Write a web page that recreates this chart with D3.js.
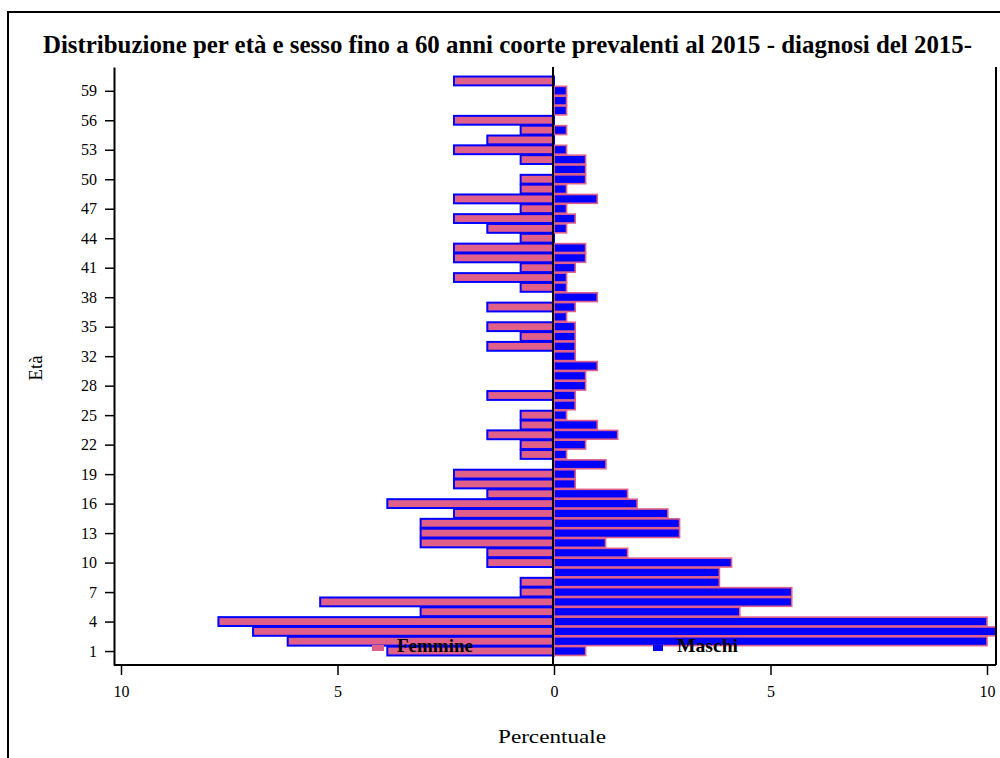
<!DOCTYPE html>
<html><head><meta charset="utf-8">
<script src="https://cdn.jsdelivr.net/npm/d3@7"></script>
<style>body{margin:0;background:#fff;overflow:hidden}</style>
</head><body>
<svg id="c" width="1000" height="758"></svg>
<script>
// Age categories (bottom to top); age 29 absent in the data
const ages = [1,2,3,4,5,6,7,8,9,10,11,12,13,14,15,16,17,18,19,20,21,22,23,24,25,26,27,28,
              30,31,32,33,34,35,36,37,38,39,40,41,42,43,44,45,46,47,48,49,50,51,52,53,54,55,56,57,58,59,60];
// Percent of females per age
const femmine = [3.85,6.15,6.95,7.75,3.08,5.4,0.77,0.77,0,1.54,1.54,3.08,3.08,3.08,2.31,3.85,1.54,2.31,2.31,0,
                 0.77,0.77,1.54,0.77,0.77,0,1.54,0,
                 0,0,0,1.54,0.77,1.54,0,1.54,0,0.77,2.31,0.77,2.31,2.31,0.77,1.54,2.31,0.77,2.31,0.77,0.77,0,
                 0.77,2.31,1.54,0.77,2.31,0,0,0,2.31];
// Percent of males per age
const maschi = [0.73,10.0,10.2,10.0,4.29,5.49,5.49,3.82,3.82,4.1,1.7,1.19,2.9,2.9,2.63,1.92,1.7,0.49,0.49,1.2,
                0.29,0.73,1.47,1.0,0.29,0.49,0.49,0.73,
                0.73,1.0,0.49,0.49,0.49,0.49,0.29,0.49,1.0,0.29,0.29,0.49,0.73,0.73,0,0.29,0.49,0.29,1.0,0.29,0.73,0.73,
                0.73,0.29,0,0.29,0,0.29,0.29,0.29,0];
const ageTickLabels = [1,4,7,10,13,16,19,22,25,28,32,35,38,41,44,47,50,53,56,59];
const xTickValues = [-10,-5,0,5,10];
const title = "Distribuzione per età e sesso fino a 60 anni coorte prevalenti al 2015  - diagnosi del 2015-";
const legendLabels = ["Femmine","Maschi"];

const PINK = "#E0608A", BLUE = "#0000FF";
const FONT = "'Liberation Serif','Times New Roman',serif";

const svg = d3.select("#c");
const pLeft = 114, pRight = 996, pTop = 67, pBottom = 665;

// outer frame
svg.append("rect").attr("x",8).attr("y",12).attr("width",1000).attr("height",760)
  .attr("fill","none").attr("stroke","#000").attr("stroke-width",2);

// title
svg.append("text").attr("x",43).attr("y",53).attr("font-family",FONT).attr("font-weight","bold")
  .attr("font-size",25).attr("textLength",929).attr("lengthAdjust","spacingAndGlyphs")
  .text(title);

const x = d3.scaleLinear().domain([-10,10]).range([121,987]);
const y = d3.scalePoint().domain(ages).range([pBottom, pTop]).padding(1.42);
const step = y.step();

const data = ages.map((a,i)=>({age:a,f:femmine[i],m:maschi[i]}));

// female bars
svg.append("g").selectAll("rect").data(data.filter(d=>d.f>0)).join("rect")
  .attr("x",d=>x(-d.f)).attr("width",d=>x(0)-x(-d.f))
  .attr("y",d=>y(d.age)-step/2+0.5).attr("height",step-1)
  .attr("fill",PINK).attr("stroke",BLUE).attr("stroke-width",2);

// male bars
svg.append("g").selectAll("rect").data(data.filter(d=>d.m>0)).join("rect")
  .attr("x",x(0)).attr("width",d=>x(d.m)-x(0))
  .attr("y",d=>y(d.age)-step/2+0.5).attr("height",step-1)
  .attr("fill",BLUE).attr("stroke",PINK).attr("stroke-width",1.6);

// plot boundary lines
svg.append("line").attr("x1",pRight).attr("x2",pRight).attr("y1",pTop).attr("y2",pBottom)
  .attr("stroke","#000").attr("stroke-width",2);
svg.append("line").attr("x1",pLeft).attr("x2",pRight).attr("y1",pBottom).attr("y2",pBottom)
  .attr("stroke","#000").attr("stroke-width",2);
svg.append("line").attr("x1",x(0)-1).attr("x2",x(0)-1).attr("y1",pTop).attr("y2",pBottom)
  .attr("stroke","#000").attr("stroke-width",2);

// y axis
const yAxis = svg.append("g").attr("transform",`translate(${pLeft},0)`)
  .call(d3.axisLeft(y).tickValues(ageTickLabels).tickSize(9).tickSizeOuter(0).tickPadding(8));
yAxis.select(".domain").attr("stroke","#000").attr("stroke-width",2);
yAxis.selectAll(".tick line").attr("stroke","#000").attr("stroke-width",1.5);
yAxis.selectAll("text").attr("font-family",FONT).attr("font-size",16).attr("fill","#000");

// x axis
const xAxis = svg.append("g").attr("transform",`translate(0,${pBottom})`)
  .call(d3.axisBottom(x).tickValues(xTickValues).tickFormat(d=>Math.abs(d)).tickSize(10).tickPadding(11));
xAxis.select(".domain").remove();
xAxis.selectAll(".tick line").attr("stroke","#000").attr("stroke-width",1.5);
xAxis.selectAll("text").attr("font-family",FONT).attr("font-size",16).attr("fill","#000");

// axis titles
svg.append("text").attr("x",552).attr("y",743).attr("text-anchor","middle")
  .attr("font-family",FONT).attr("font-size",19).attr("textLength",108).attr("lengthAdjust","spacingAndGlyphs")
  .text("Percentuale");
svg.append("text").attr("transform","translate(42,368) rotate(-90)").attr("text-anchor","middle")
  .attr("font-family",FONT).attr("font-size",19).text("Età");

// legend
const legend = [
  {label:legendLabels[0], sx:372, sw:12, tx:397, tw:76, fill:PINK},
  {label:legendLabels[1], sx:653, sw:10, tx:677, tw:61, fill:BLUE}
];
const lg = svg.append("g");
legend.forEach(l=>{
  lg.append("rect").attr("x",l.sx).attr("y",645).attr("width",l.sw).attr("height",6).attr("fill",l.fill);
  lg.append("text").attr("x",l.tx).attr("y",652).attr("font-family",FONT).attr("font-weight","bold")
    .attr("font-size",18).attr("textLength",l.tw).attr("lengthAdjust","spacingAndGlyphs").text(l.label);
});
</script>
</body></html>
